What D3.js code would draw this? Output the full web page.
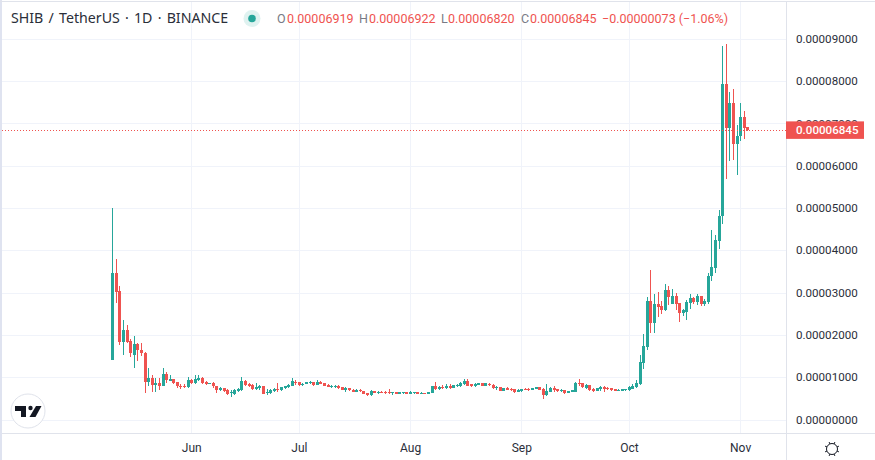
<!DOCTYPE html>
<html><head><meta charset="utf-8">
<style>
html,body{margin:0;padding:0;background:#fff;overflow:hidden}
svg{display:block}
text{font-family:Roboto,sans-serif}
</style>
<script src="https://cdn.jsdelivr.net/npm/d3@7"></script>
</head><body><svg id="c" width="875" height="460"></svg>
<script>
// Prices in units of 1e-5 USDT, one per day from the start date
const startDate = "2021-05-10";
const opens = [1.41,3.46,3.04,1.82,2.12,1.86,1.52,1.78,1.65,1.57,
 .89,.98,.82,.87,.80,1.07,.92,.95,.89,.79,
 .80,.76,.93,.87,.93,.98,.89,.85,.87,.80,.70,.75,
 .69,.62,.61,.68,.69,.91,.84,.81,.72,.75,
 .80,.62,.62,.68,.72,.70,.74,.76,.80,.89,
 .88,.83,.83,.86,.89,.82,.89,.87,.81,.76,
 .76,.80,.77,.70,.75,.70,.66,.70,.68,.63,
 .58,.68,.63,.66,.65,.66,.63,.65,.61,.63,
 .65,.61,.63,.65,.61,.63,.61,.63,.80,.72,
 .77,.75,.80,.75,.80,.80,.84,.91,.83,.80,
 .82,.87,.80,.84,.82,.75,.77,.68,.75,.72,
 .72,.65,.68,.72,.72,.70,.72,.77,.72,.58,
 .65,.75,.72,.68,.70,.63,.65,.65,.87,.87,
 .75,.82,.72,.68,.72,.77,.75,.75,.72,.68,
 .68,.70,.70,.72,.77,
 .84,1.33,1.71,2.80,2.28,2.73,2.68,2.59,3.06,2.73,
 2.92,2.75,2.52,2.54,2.75,2.87,2.78,2.92,2.73,2.78,
 3.39,3.58,4.23,4.80,7.92,6.89,7.49,6.52,6.71,7.16,6.919];
const closes = [3.46,3.02,1.82,2.12,1.82,1.56,1.78,1.64,1.56,.89,
 .98,.82,.87,.80,1.07,.93,.95,.87,.78,.76,
 .77,.93,.87,.95,.98,.87,.85,.87,.78,.70,.74,.68,
 .61,.65,.69,.72,.91,.82,.80,.72,.77,.80,
 .61,.66,.70,.73,.70,.76,.80,.82,.90,.87,
 .82,.85,.88,.89,.82,.89,.85,.80,.77,.80,
 .80,.75,.70,.75,.69,.66,.70,.67,.61,.58,
 .68,.63,.65,.64,.63,.63,.65,.61,.65,.65,
 .61,.65,.65,.61,.63,.61,.65,.80,.72,.77,
 .75,.80,.75,.81,.82,.87,.91,.80,.80,.84,
 .87,.80,.86,.82,.74,.77,.68,.75,.70,.70,
 .65,.70,.72,.70,.70,.75,.77,.70,.58,.68,
 .75,.70,.68,.70,.63,.68,.70,.87,.84,.77,
 .82,.70,.68,.75,.77,.72,.72,.70,.68,.70,
 .72,.72,.77,.80,.87,
 1.36,1.74,2.80,2.28,2.73,2.66,2.59,3.06,2.89,2.92,
 2.73,2.52,2.59,2.78,2.87,2.78,2.92,2.73,2.80,3.39,
 3.60,4.25,4.82,7.92,6.89,7.49,6.52,6.71,7.16,6.90,6.845];
const highs = [5.00,3.79,3.16,2.35,2.23,1.90,1.97,1.81,1.81,1.59,
 1.22,1.05,.98,.98,1.22,1.12,1.05,.95,.89,.85,
 .83,1.00,.95,1.05,1.05,1.00,.91,.87,.89,.80,.77,.75,
 .71,.69,.72,.74,1.00,.94,.87,.83,.86,.82,
 .80,.72,.72,.75,.87,.77,.80,.85,.98,.94,
 .89,.87,.89,.91,.89,.94,.91,.87,.83,.82,
 .81,.82,.77,.77,.75,.72,.72,.72,.68,.63,
 .70,.68,.68,.68,.68,.71,.65,.65,.65,.65,
 .65,.68,.65,.65,.65,.63,.65,.80,.89,.80,
 .82,.84,.84,.82,.84,.89,.96,.96,.84,.86,
 .87,.87,.87,.87,.84,.80,.77,.75,.77,.75,
 .72,.72,.72,.75,.75,.75,.77,.77,.75,.84,
 .77,.80,.72,.72,.70,.68,.70,.89,.96,.87,
 .84,.82,.75,.75,.80,.80,.77,.75,.72,.72,
 .72,.72,.80,.84,.94,
 1.52,2.02,2.89,3.53,2.96,3.01,2.80,3.20,3.15,3.08,
 2.99,2.75,2.61,2.82,2.96,2.89,2.96,2.92,2.85,3.46,
 4.49,4.37,4.96,8.83,8.87,7.75,7.80,6.97,7.49,7.30,6.922];
const lows = [1.41,2.76,1.75,1.53,1.81,1.48,1.22,1.39,1.51,.63,
 .80,.66,.66,.69,.78,.87,.92,.85,.75,.73,
 .75,.75,.83,.85,.91,.83,.81,.83,.75,.63,.67,.66,
 .57,.54,.58,.66,.68,.80,.76,.70,.69,.70,
 .61,.57,.60,.65,.66,.68,.73,.74,.80,.81,
 .80,.80,.83,.85,.80,.82,.84,.78,.76,.75,
 .75,.72,.70,.65,.68,.65,.65,.65,.61,.56,
 .56,.63,.61,.63,.61,.61,.58,.61,.61,.61,
 .61,.61,.61,.61,.61,.61,.61,.63,.70,.70,
 .72,.73,.72,.75,.77,.77,.82,.80,.77,.77,
 .82,.80,.80,.80,.72,.70,.68,.68,.69,.68,
 .63,.65,.65,.69,.68,.70,.72,.70,.49,.56,
 .65,.65,.65,.65,.61,.63,.65,.65,.80,.75,
 .72,.68,.65,.68,.68,.65,.70,.68,.68,.68,
 .68,.68,.68,.72,.75,
 .81,1.19,1.64,2.04,2.04,2.42,2.49,2.56,2.70,2.73,
 2.59,2.30,2.44,2.35,2.61,2.73,2.70,2.68,2.68,2.73,
 3.27,3.46,4.03,4.63,5.69,6.10,6.14,5.79,6.59,6.64,6.820];
const priceTicks = [0,1,2,3,4,5,6,7,8,9];
const monthTicks = ["2021-06-01","2021-07-01","2021-08-01","2021-09-01","2021-10-01","2021-11-01"];
const monthLabels = ["Jun","Jul","Aug","Sep","Oct","Nov"];
const lastPrice = 6.845;
const titleText = "SHIB / TetherUS · 1D · BINANCE";
const legendItems = [
 {k:"O",v:"0.00006919"},{k:"H",v:"0.00006922"},{k:"L",v:"0.00006820"},{k:"C",v:"0.00006845"}];
const changeText = "−0.00000073 (−1.06%)";

const UP="#26a69a", DOWN="#ef5350", GRID="#f0f3fa", BORDER="#e0e3eb", TXT="#131722", AXTXT="#2a2e39";
const paneR=786.5, paneB=433.5, paneT=1.5, paneL=2;
const svg=d3.select("#c");
const parse=d3.utcParse("%Y-%m-%d");
const t0=parse(startDate);
const dates=opens.map((_,i)=>d3.utcDay.offset(t0,i));
const x=d3.scaleUtc().domain([t0,dates[dates.length-1]]).range([112.3,747.3]);
const y=d3.scaleLinear().domain([0,9]).range([419.5,38.7]);
const fmt=v=>(v*1e-5).toFixed(8);

// frame
svg.append("rect").attr("x",0).attr("y",0).attr("width",2).attr("height",460).attr("fill","#dfe3f0");
svg.append("rect").attr("x",0).attr("y",1).attr("width",875).attr("height",1).attr("fill",BORDER);

// grid + axes
const gx=svg.append("g").attr("transform",`translate(0,${paneB})`)
 .call(d3.axisBottom(x).tickValues(monthTicks.map(parse)).tickSize(0)
   .tickFormat((d,i)=>monthLabels[i]).tickPadding(10));
gx.select(".domain").remove();
gx.selectAll("line").remove();
gx.selectAll("text").attr("font-size",12).attr("fill",AXTXT).style("font-family","Roboto,sans-serif");
const gy=svg.append("g").attr("class","yaxis").attr("transform",`translate(${paneR},0)`)
 .call(d3.axisRight(y).tickValues(priceTicks).tickSize(0).tickPadding(9.5).tickFormat(fmt));
gy.select(".domain").remove();
gy.selectAll("line").remove();
gy.selectAll("text").attr("font-size",11.6).attr("fill",AXTXT).style("font-family","Roboto,sans-serif");

const grid=svg.insert("g",".yaxis").attr("shape-rendering","crispEdges");
grid.selectAll("line.h").data(priceTicks).join("line").attr("class","h")
 .attr("x1",paneL).attr("x2",paneR)
 .attr("y1",d=>Math.round(y(d))+.5).attr("y2",d=>Math.round(y(d))+.5)
 .attr("stroke",GRID);
grid.selectAll("line.v").data(monthTicks.map(parse)).join("line").attr("class","v")
 .attr("y1",paneT).attr("y2",paneB)
 .attr("x1",d=>Math.round(x(d))+.5).attr("x2",d=>Math.round(x(d))+.5)
 .attr("stroke",GRID);
svg.append("line").attr("x1",paneL).attr("x2",875).attr("y1",paneB).attr("y2",paneB).attr("stroke",BORDER).attr("shape-rendering","crispEdges");
svg.append("line").attr("x1",paneR).attr("x2",paneR).attr("y1",paneT).attr("y2",460).attr("stroke",BORDER).attr("shape-rendering","crispEdges");

// candles
const idx=d3.range(opens.length);
const col=i=>closes[i]>=opens[i]?UP:DOWN;
const cg=svg.append("g").attr("shape-rendering","crispEdges");
cg.selectAll("rect.w").data(idx).join("rect").attr("class","w")
 .attr("x",i=>Math.round(x(dates[i]))).attr("width",1)
 .attr("y",i=>y(highs[i])).attr("height",i=>Math.max(1,y(lows[i])-y(highs[i])))
 .attr("fill",col);
cg.selectAll("rect.b").data(idx).join("rect").attr("class","b")
 .attr("x",i=>Math.round(x(dates[i]))-1).attr("width",3)
 .attr("y",i=>y(Math.max(opens[i],closes[i])))
 .attr("height",i=>Math.max(1,Math.abs(y(opens[i])-y(closes[i]))))
 .attr("fill",col);

// last price
const ly=y(lastPrice);
svg.append("line").attr("x1",paneL).attr("x2",paneR).attr("y1",Math.round(ly)+.5).attr("y2",Math.round(ly)+.5)
 .attr("stroke",DOWN).attr("stroke-dasharray","1 2").attr("shape-rendering","crispEdges");
svg.append("rect").attr("x",paneR-.5).attr("y",ly-8.5).attr("width",78).attr("height",17.5).attr("fill",DOWN);
svg.append("text").attr("x",796).attr("y",ly).attr("dy",".35em").attr("font-size",11.6).attr("font-weight",500).attr("fill","#fff").text(fmt(lastPrice));

// legend
svg.append("text").attr("x",11).attr("y",23).attr("font-size",14.2).attr("word-spacing",1.5).attr("fill",AXTXT).style("font-family","'Noto Sans',sans-serif").text(titleText);
svg.append("circle").attr("cx",252).attr("cy",18.5).attr("r",8.5).attr("fill",UP).attr("fill-opacity",.15);
svg.append("circle").attr("cx",252).attr("cy",18.5).attr("r",3.8).attr("fill",UP);
const keyX=[277,359,441,521];
const valX=[287,369,448,530];
legendItems.forEach((d,i)=>{
 svg.append("text").attr("x",keyX[i]).attr("y",23).attr("font-size",12.5).attr("fill","#787b86").text(d.k);
 svg.append("text").attr("x",valX[i]).attr("y",23).attr("font-size",12.5).attr("fill",DOWN).text(d.v);
});
svg.append("text").attr("x",602).attr("y",23).attr("font-size",12.5).attr("fill",DOWN).text(changeText);

// logo
const logo=svg.append("g");
logo.append("circle").attr("cx",28).attr("cy",411).attr("r",17).attr("fill","#fff").attr("stroke",BORDER).attr("stroke-width",1);
logo.append("path").attr("fill",TXT).attr("d","M15 406H26V417H21V411H15Z");
logo.append("circle").attr("cx",30.5).attr("cy",408).attr("r",2.2).attr("fill",TXT);
logo.append("path").attr("fill",TXT).attr("d","M36 406H41.5L35.5 417H29.5Z");

// settings gear
const gear=svg.append("g").attr("transform","translate(832,449)").attr("fill","none").attr("stroke",TXT).attr("stroke-width",1);
gear.append("circle").attr("r",5.5);
d3.range(8).forEach(k=>{
 const a=k*Math.PI/4+Math.PI/8;
 gear.append("line").attr("x1",5.5*Math.cos(a)).attr("y1",5.5*Math.sin(a)).attr("x2",7.5*Math.cos(a)).attr("y2",7.5*Math.sin(a));
});
</script></body></html>
